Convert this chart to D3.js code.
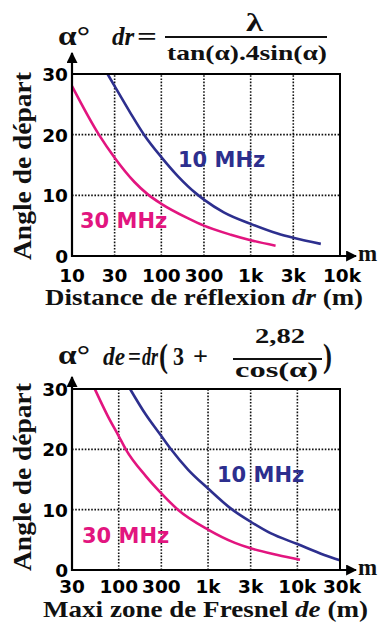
<!DOCTYPE html>
<html>
<head>
<meta charset="utf-8">
<script src="https://cdn.jsdelivr.net/npm/d3@7"></script>
<style>
    body { margin: 0; background: #fff; }
    svg { display: block; }
    .tick-label { font-family: "DejaVu Sans", sans-serif; font-weight: bold; font-size: 18.5px; fill: #000; }
    .serif { font-family: "Liberation Serif", "Times New Roman", serif; font-weight: bold; fill: #111; }
    .series-label { font-family: "DejaVu Sans", sans-serif; font-weight: bold; font-size: 21px; }
</style>
</head>
<body>
<div id="chart"></div>
<script>
// angle ticks shared by both charts
const angleTicks = [0, 10, 20, 30];

// top chart : distance de réflexion dr (m)
const drTicks = [10, 30, 100, 300, 1000, 3000, 10000];
const drTickLabels = ["10", "30", "100", "300", "1k", "3k", "10k"];
const dr10MHz = [[25, 30], [30, 28], [45, 23.6], [64, 20], [100, 16.3], [150, 13.3], [250, 10.2], [300, 9.3],
    [500, 7.2], [1000, 5.3], [2000, 3.7], [3000, 3.0], [6100, 2.0]];
const dr30MHz = [[10, 28], [20, 20], [30, 16.2], [50, 12.2], [70, 10.2], [100, 8.6], [200, 6.2], [300, 5.0],
    [600, 3.5], [1000, 2.6], [1900, 1.7]];

// bottom chart : maxi zone de Fresnel de (m)
const deTicks = [30, 100, 300, 1000, 3000, 10000, 30000];
const deTickLabels = ["30", "100", "300", "1k", "3k", "10k", "30k"];
const de10MHz = [[134, 30], [200, 25.8], [300, 22.2], [385, 20], [600, 16.6], [1000, 13.5], [1760, 10.3],
    [3000, 8.0], [5000, 6.1], [10000, 4.3], [20000, 2.5], [30000, 1.6]];
const de30MHz = [[54, 30], [75, 25.6], [100, 22.2], [120, 20], [200, 15.6], [300, 12.7], [460, 10],
    [1000, 6.7], [2000, 4.5], [3000, 3.6], [6000, 2.5], [10700, 1.7]];

const blue = "#2d2f8e", pink = "#e2157f";

const width = 378, height = 628;
const svg = d3.select("#chart").append("svg")
    .attr("width", width)
    .attr("height", height);

svg.append("defs").append("marker")
    .attr("id", "arrow")
    .attr("viewBox", "0 0 10 10")
    .attr("refX", 9).attr("refY", 5)
    .attr("markerWidth", 5).attr("markerHeight", 5)
    .attr("markerUnits", "strokeWidth")
    .attr("orient", "auto")
    .append("path")
    .attr("d", "M0,0 L10,5 L0,10 Z")
    .attr("fill", "#000");

// serif text, squeezed or stretched to the width it has in the picture
function stretchText(parent, x, yPos, w, size, parts) {
    const t = parent.append("text").attr("class", "serif")
        .attr("x", x).attr("y", yPos)
        .attr("font-size", size);
    if (w) t.attr("textLength", w).attr("lengthAdjust", "spacingAndGlyphs");
    parts.forEach(p => {
        const s = t.append("tspan").text(p[0]);
        if (p[1]) s.attr("font-style", "italic");
    });
    return t;
}

function drawChart(opt) {
    const left = 72, right = 340;
    const x = d3.scaleLog().domain(opt.xDomain).range([left, right]);
    const y = d3.scaleLinear().domain([0, 30]).range([opt.bottom, opt.top]);
    const g = svg.append("g");

    // dotted grid
    g.append("g")
        .selectAll("line")
        .data(opt.xTicks.slice(1, -1))
        .join("line")
        .attr("x1", d => x(d)).attr("x2", d => x(d))
        .attr("y1", y(0)).attr("y2", y(30))
        .attr("stroke", "#111").attr("stroke-width", 1.6)
        .attr("stroke-dasharray", "1.6,1.6");
    g.append("g")
        .selectAll("line")
        .data([10, 20])
        .join("line")
        .attr("x1", left).attr("x2", right)
        .attr("y1", d => y(d)).attr("y2", d => y(d))
        .attr("stroke", "#111").attr("stroke-width", 1.6)
        .attr("stroke-dasharray", "1.6,1.6");

    // series labels
    g.append("text").attr("class", "series-label")
        .attr("x", opt.label10[0]).attr("y", opt.label10[1])
        .attr("fill", blue).text("10 MHz");
    g.append("text").attr("class", "series-label")
        .attr("x", opt.label30[0]).attr("y", opt.label30[1])
        .attr("fill", pink).text("30 MHz");

    // curves
    const line = d3.line()
        .x(d => x(d[0]))
        .y(d => y(d[1]))
        .curve(d3.curveMonotoneX);
    g.append("path").datum(opt.s30)
        .attr("d", line).attr("fill", "none")
        .attr("stroke", pink).attr("stroke-width", 2.6);
    g.append("path").datum(opt.s10)
        .attr("d", line).attr("fill", "none")
        .attr("stroke", blue).attr("stroke-width", 2.6);

    // frame top + right
    g.append("path")
        .attr("d", `M${left},${y(30)} H${right} V${y(0)}`)
        .attr("fill", "none").attr("stroke", "#000").attr("stroke-width", 2);

    // axes with arrows
    g.append("line")
        .attr("x1", left).attr("x2", left)
        .attr("y1", y(0) + 1).attr("y2", opt.arrowTop)
        .attr("stroke", "#000").attr("stroke-width", 2.2)
        .attr("marker-end", "url(#arrow)");
    g.append("line")
        .attr("x1", left - 1).attr("x2", 356)
        .attr("y1", y(0)).attr("y2", y(0))
        .attr("stroke", "#000").attr("stroke-width", 2.2)
        .attr("marker-end", "url(#arrow)");
    g.append("text").attr("class", "serif")
        .attr("x", 358).attr("y", y(0) + 5)
        .attr("font-size", 23).text("m");

    // tick labels
    g.append("g")
        .selectAll("text")
        .data(angleTicks)
        .join("text")
        .attr("class", "tick-label")
        .attr("x", left - 4).attr("y", d => y(d) + 7)
        .attr("text-anchor", "end")
        .text(d => d);
    g.append("g")
        .selectAll("text")
        .data(opt.xTicks)
        .join("text")
        .attr("class", "tick-label")
        .attr("x", (d, i) => x(d) + (i == opt.xTicks.length - 1 ? 2 : 0))
        .attr("y", opt.bottom + opt.tickDy)
        .attr("text-anchor", "middle")
        .text((d, i) => opt.xLabels[i]);

    // y title
    g.append("text").attr("class", "serif")
        .attr("transform", `translate(31,${opt.yTitleMid}) rotate(-90)`)
        .attr("text-anchor", "middle")
        .attr("font-size", 25)
        .attr("textLength", 188)
        .attr("lengthAdjust", "spacingAndGlyphs")
        .text("Angle de départ");

    // x title
    stretchText(g, opt.xTitleX, opt.bottom + opt.xTitleDy, opt.xTitleW, 23, opt.xTitle);

    // alpha label
    stretchText(g, 58, opt.alphaY, 32, 27, [["α°"]]);
    return g;
}

const topChart = drawChart({
    top: 74, bottom: 256, arrowTop: 53, alphaY: 45, tickDy: 26,
    xDomain: [10, 10000], xTicks: drTicks, xLabels: drTickLabels,
    s10: dr10MHz, s30: dr30MHz,
    label10: [178, 167], label30: [80, 228],
    yTitleMid: 166,
    xTitle: [["Distance de réflexion "], ["dr", true], [" (m)"]],
    xTitleX: 45, xTitleW: 318, xTitleDy: 49
});
const bottomChart = drawChart({
    top: 389, bottom: 570, arrowTop: 377, alphaY: 364, tickDy: 23,
    xDomain: [30, 30000], xTicks: deTicks, xLabels: deTickLabels,
    s10: de10MHz, s30: de30MHz,
    label10: [217, 482], label30: [82, 543],
    yTitleMid: 477,
    xTitle: [["Maxi zone de Fresnel "], ["de", true], [" (m)"]],
    xTitleX: 43, xTitleW: 325, xTitleDy: 47
});

// formula dr = λ / (tan(α).4sin(α))
const f1 = svg.append("g");
stretchText(f1, 112, 45, 0, 25, [["dr", true]]);
stretchText(f1, 137, 45, 20, 26, [["="]]);
f1.append("line").attr("x1", 165).attr("x2", 327).attr("y1", 37).attr("y2", 37)
    .attr("stroke", "#111").attr("stroke-width", 2);
stretchText(f1, 246, 31, 17, 25, [["λ"]]);
stretchText(f1, 167, 60, 160, 22, [["tan(α).4sin(α)"]]);

// formula de = dr(3 + 2,82 / cos(α))
const f2 = svg.append("g");
stretchText(f2, 103, 365, 22, 25, [["de", true]]);
stretchText(f2, 128, 365, 13, 25, [["="]]);
stretchText(f2, 142, 365, 16, 25, [["dr", true]]);
stretchText(f2, 159, 367, 9, 34, [["("]]).attr("font-weight", "normal");
stretchText(f2, 173, 365, 11, 25, [["3"]]);
stretchText(f2, 193, 365, 15, 25, [["+"]]);
f2.append("line").attr("x1", 233).attr("x2", 322).attr("y1", 359).attr("y2", 359)
    .attr("stroke", "#111").attr("stroke-width", 2);
stretchText(f2, 255, 343, 50, 22, [["2,82"]]);
stretchText(f2, 235, 377, 83, 22, [["cos(α)"]]);
stretchText(f2, 323, 367, 9, 34, [[")"]]).attr("font-weight", "normal");
</script>
</body>
</html>
